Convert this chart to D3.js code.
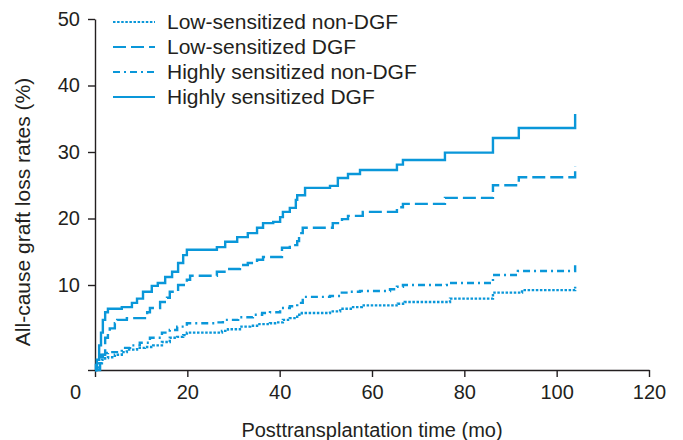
<!DOCTYPE html>
<html><head><meta charset="utf-8">
<script src="https://cdn.jsdelivr.net/npm/d3@7"></script>
<style>body{margin:0;background:#fff}svg{display:block}text{font-family:"Liberation Sans",Arial,sans-serif;fill:#231f20}</style>
</head><body><svg id="c" width="683" height="440"></svg>
<script>
const seriesNames = ["Low-sensitized non-DGF","Low-sensitized DGF","Highly sensitized non-DGF","Highly sensitized DGF"];
const xTicks = [0,20,40,60,80,100,120];
const yTicks = [0,10,20,30,40,50];

const lowNonDgfTime = [0,0.6,1.5,2.2,2.8,4.3,5.8,6.9,9.1,10.8,12.6,14.5,16.2,17.8,19.1,19.9,27.5,28.8,31.4,33.6,35.1,37.9,39.4,40.7,42.2,43.8,44.8,50.9,53.1,55.9,57.8,65.6,67.1,76.9,86.2,92.5,104,104];
const lowNonDgfRate = [0,0.8,1.2,1.4,1.5,1.8,2.1,2.4,2.6,2.7,2.9,3.3,3.8,3.9,4.1,4.4,4.6,4.8,5.1,5.2,5.4,5.5,5.6,5.9,6.1,6.5,6.7,6.9,7.2,7.4,7.6,7.8,8.0,8.4,9.1,9.4,9.4,9.8];

const lowDgfTime = [0,1.1,2.2,2.8,3.2,4.3,4.8,6.9,11.3,11.9,14.1,15.6,16.2,18.0,19.9,20.6,26.4,28.6,31.4,33.1,35.1,36.4,40.5,42.2,43.8,44.2,45.0,51.5,53.5,54.8,58.0,65.4,66.7,75.8,86.2,91.8,104,104];
const lowDgfRate = [0,1.8,3.8,4.4,4.9,5.5,5.9,6.1,6.8,7.3,8.0,8.5,9.2,10.0,10.8,11.4,12.0,12.4,13.0,13.3,13.8,14.2,15.6,16.0,16.6,17.8,18.6,19.3,19.9,20.4,21.0,21.7,22.2,23.1,25.0,26.2,26.2,27.9];

const highNonDgfTime = [0,0.2,1.1,1.7,2.8,5.8,7.6,9.7,11.9,14.5,16.2,17.8,19.9,26.4,27.7,31.0,34.2,36.2,37.9,40.1,42.2,43.8,45.0,50.9,53.1,54.8,57.4,63.9,65.4,66.7,76.2,86.2,91.6,104,104];
const highNonDgfRate = [0,0.6,1.5,2.0,2.1,2.6,2.9,3.2,3.8,4.4,4.7,5.1,5.5,5.6,5.9,6.2,6.5,6.7,6.8,7.3,7.5,7.9,8.6,8.7,9.1,9.2,9.3,9.5,9.8,10.0,10.3,11.5,12.1,12.1,13.2];

const highDgfTime = [0,0.4,0.9,1.3,1.7,2.2,2.8,5.8,8.0,9.1,10.4,12.3,13.6,15.2,16.7,18.0,19.1,19.9,26.4,28.2,30.8,33.1,35.1,36.4,38.6,40.1,40.7,42.2,43.5,43.8,45.5,50.9,52.6,54.8,57.4,65.4,66.7,75.8,86.2,91.8,104,104];
const highDgfRate = [0,1.2,2.9,4.4,5.9,6.8,7.2,7.4,7.9,8.4,9.2,9.9,10.3,11.2,12.0,13.3,14.5,15.3,15.7,16.5,17.2,17.8,18.6,19.3,19.5,20.2,21.0,21.6,22.8,23.5,24.6,24.9,26.1,26.7,27.3,28.1,28.8,29.9,32.1,33.6,33.6,35.7];

const dashes = ["2.5,1.6","13,5","7,4,2,4",null];

const svg = d3.select("#c");
const color = "#0a97d9";
const ink = "#231f20";
const x = d3.scaleLinear().domain([0,120]).range([95,649]);
const y = d3.scaleLinear().domain([0,10,50]).range([370,285,19]);

// axes
const xAxis = svg.append("g").attr("transform","translate(0,370)")
  .call(d3.axisBottom(x).tickValues(xTicks).tickSize(7).tickSizeOuter(0).tickPadding(8));
const yAxis = svg.append("g").attr("transform","translate(95,0)")
  .call(d3.axisLeft(y).tickValues(yTicks).tickSize(7).tickSizeOuter(0).tickPadding(8).tickFormat(d=>d===0?"":d));
[xAxis,yAxis].forEach(g=>{
  g.selectAll("path,line").attr("stroke",ink).attr("stroke-width",1.4);
  g.selectAll("text").attr("font-size",20).attr("fill",ink).style("font-family","Liberation Sans, Arial, sans-serif");
});
xAxis.selectAll(".tick").filter(d=>d===0).select("text").attr("x",-20);

svg.append("text").attr("x",372).attr("y",437).attr("text-anchor","middle").attr("font-size",20).text("Posttransplantation time (mo)");
svg.append("text").attr("transform","translate(30,212) rotate(-90)").attr("text-anchor","middle").attr("font-size",21).text("All-cause graft loss rates (%)");

// curves
const sets = [[lowNonDgfTime,lowNonDgfRate],[lowDgfTime,lowDgfRate],[highNonDgfTime,highNonDgfRate],[highDgfTime,highDgfRate]];
const line = d3.line().x(d=>x(d[0])).y(d=>y(d[1])).curve(d3.curveStepAfter);
sets.forEach((s,i)=>{
  const pts = s[0].map((t,j)=>[t,s[1][j]]);
  svg.append("path").datum(pts).attr("d",line).attr("fill","none")
    .attr("stroke",color).attr("stroke-width",2.4)
    .attr("stroke-dasharray",dashes[i]);
});

// legend
const lg = svg.append("g");
seriesNames.forEach((n,i)=>{
  const yy = 22 + i*25;
  lg.append("line").attr("x1",113).attr("x2",155).attr("y1",yy).attr("y2",yy)
    .attr("stroke",color).attr("stroke-width",2).attr("stroke-dasharray",dashes[i]);
  lg.append("text").attr("x",167).attr("y",yy+7).attr("font-size",21).text(n);
});
</script></body></html>
